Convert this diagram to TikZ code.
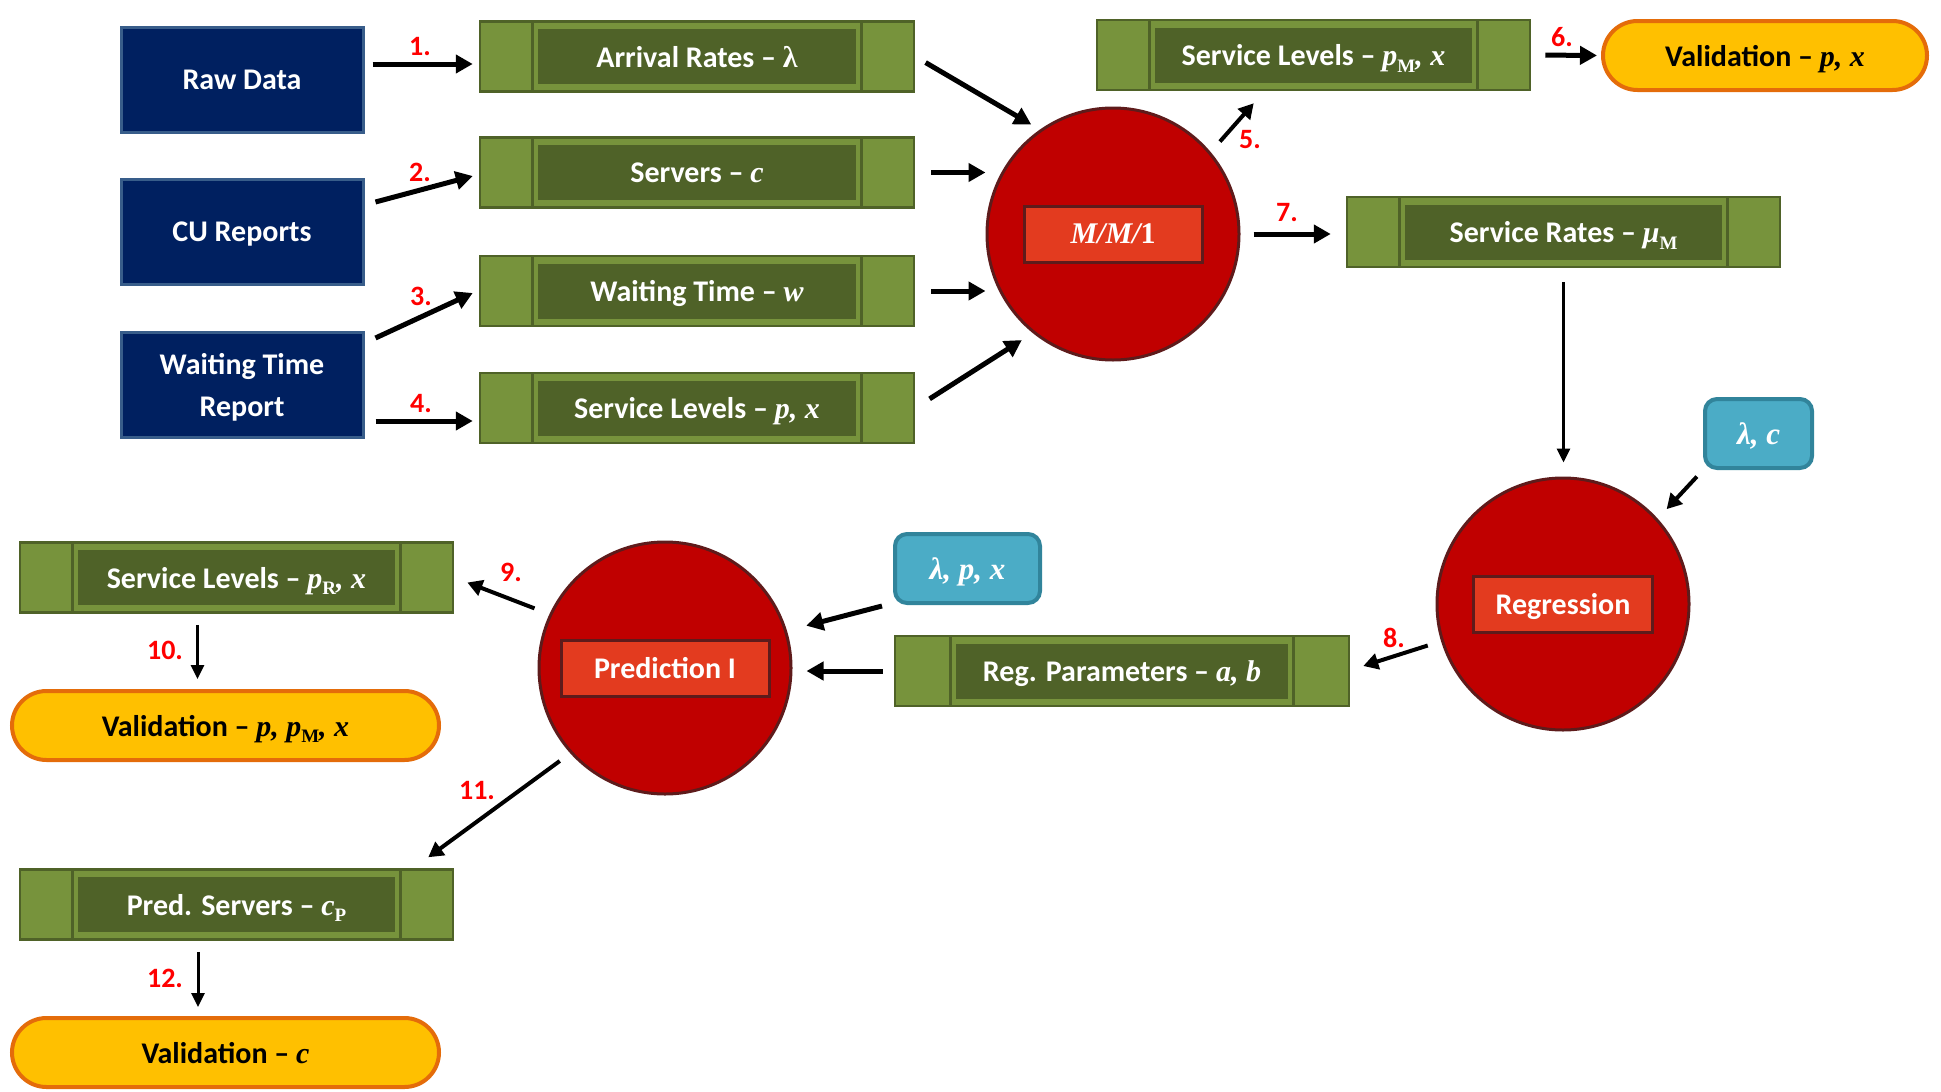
\documentclass[tikz,border=0pt]{standalone}
\usepackage{fontspec}
\setmainfont{Carlito}
\newfontfamily\serf{Liberation Serif}
\usetikzlibrary{calc,arrows.meta,shapes.misc}

\definecolor{navy}{HTML}{002060}
\definecolor{navyb}{HTML}{385D8A}
\definecolor{lgreen}{HTML}{77933C}
\definecolor{dgreen}{HTML}{4F6228}
\definecolor{cred}{HTML}{C00000}
\definecolor{cborder}{HTML}{5E1B1B}
\definecolor{clabel}{HTML}{E33B1F}
\definecolor{gold}{HTML}{FFC000}
\definecolor{goldb}{HTML}{E46C0A}
\definecolor{teal}{HTML}{4BACC6}
\definecolor{tealb}{HTML}{31849B}
\definecolor{numred}{HTML}{FF0000}

\newcommand\boxfnt{\fontsize{30}{42}\selectfont\bfseries}
\newcommand\numfnt{\fontsize{28}{32}\selectfont\bfseries}
\newcommand\mi[1]{{\serf\itshape #1}}
\newcommand\sbsc[1]{\raisebox{-0.22em}{\fontsize{19}{19}\selectfont\serf\upshape #1}}

\tikzset{
  srcbox/.style={rectangle, fill=navy, draw=navyb, line width=3pt,
    minimum width=242pt, minimum height=105pt, inner sep=0pt, text depth=0pt,
    text=white, align=center, font=\boxfnt},
  procbox/.style={rectangle, fill=lgreen, draw=dgreen, line width=2.5pt,
    minimum width=433pt, minimum height=70pt, inner sep=0pt, text depth=0pt,
    text=white, font=\boxfnt,
    path picture={
      \draw[dgreen, line width=3pt]
        let \p1=(path picture bounding box.south west),
            \p2=(path picture bounding box.north east),
            \n1={0.122*(\x2-\x1)} in
        (\x1+\n1,\y1) -- (\x1+\n1,\y2) (\x2-\n1,\y1) -- (\x2-\n1,\y2);
      \filldraw[fill=dgreen, draw=lgreen, line width=3pt]
        let \p1=(path picture bounding box.south west),
            \p2=(path picture bounding box.north east),
            \n1={0.122*(\x2-\x1)} in
        (\x1+\n1+4pt,\y1+6pt) rectangle (\x2-\n1-4pt,\y2-6pt);
    }},
  stage/.style={circle, fill=cred, draw=cborder, line width=3pt,
    minimum size=252pt, inner sep=0pt},
  stagelabel/.style={rectangle, fill=clabel, draw=cborder, line width=3pt,
    minimum height=56pt, inner sep=0pt, text depth=0pt, text=white, font=\boxfnt},
  valbox/.style={rounded rectangle, fill=gold, draw=goldb, line width=4pt,
    minimum width=427pt, minimum height=69pt, inner sep=0pt, text depth=0pt,
    text=black, font=\boxfnt},
  parbox/.style={rectangle, rounded corners=12pt, fill=teal, draw=tealb,
    line width=4pt, minimum height=69pt, inner sep=0pt, text depth=0pt,
    text=white, font=\fontsize{31}{40}\selectfont\serf\bfseries\itshape},
  num/.style={text=numred, font=\numfnt, inner sep=0pt},
  arr/.style={line width=5pt, -{Triangle[length=17pt,width=18pt]}},
  arrm/.style={line width=4pt, -{Triangle[length=15pt,width=16pt]}},
  arrt/.style={line width=3pt, -{Triangle[length=14pt,width=13pt]}},
}

\begin{document}
\begin{tikzpicture}[x=1pt, y=-1pt]
\useasboundingbox (0,0) rectangle (1941,1092);

% data sources
\node[srcbox] (raw) at (242,79.5) {Raw Data};
\node[srcbox] (cu)  at (242,232)  {CU Reports};
\node[srcbox] (wtr) at (242,384.5) {Waiting Time\\Report};

% measured inputs
\node[procbox, minimum width=434pt] (arr) at (697,56.5) {Arrival Rates – {\serf λ}};
\node[procbox, minimum width=434pt] (srv) at (697,172.5) {Servers – \mi{c}};
\node[procbox, minimum width=434pt] (wt)  at (697,291)  {Waiting Time – \mi{w}};
\node[procbox, minimum width=434pt] (sl)  at (697,408)  {Service Levels – \mi{p, x}};

% queueing model
\node[stage] (mm1) at (1113,234) {};
\node[stagelabel, minimum width=178pt] (mm1t) at (mm1) {\mi{M/M/}{\serf 1}};

\node[procbox] (slm) at (1313.5,55) {Service Levels – \mi{p}\sbsc{M}\mi{, x}};
\node[valbox, minimum width=324pt] (val1) at (1765,55.5) {Validation – \mi{p, x}};
\node[procbox] (sr) at (1563.5,232) {Service Rates – \mi{μ}\sbsc{M}};

% regression
\node[parbox, minimum width=107pt] (lc) at (1758.5,433.5) {λ, c};
\node[stage] (reg) at (1563,604) {};
\node[stagelabel, minimum width=179pt] (regt) at (reg) {Regression};
\node[procbox, minimum width=454pt] (rp) at (1122,671) {Reg. Parameters – \mi{a, b}};

% prediction
\node[parbox, minimum width=145pt] (lpx) at (967.5,568.5) {λ, p, x};
\node[stage] (pred) at (665,668) {};
\node[stagelabel, minimum width=208pt] (predt) at (pred) {Prediction I};

\node[procbox] (slr) at (236.5,577.5) {Service Levels – \mi{p}\sbsc{R}\mi{, x}};
\node[valbox] (val2) at (225.5,725.5) {Validation – \mi{p, p}\sbsc{M}\mi{, x}};
\node[procbox] (cp) at (236.5,904.5) {Pred. Servers – \mi{c}\sbsc{P}};
\node[valbox] (val3) at (225.5,1052.5) {Validation – \mi{c}};

% connectors
\draw[arr] ($(raw.east)+(8,-15.5)$) -- ($(arr.west)+(-6,7.5)$);
\draw[arr] ($(cu.east)+(11,-30)$) -- ($(srv.west)+(-6,3.5)$);
\draw[arr] ($(wtr.east)+(11,-46.5)$) -- ($(wt.west)+(-6,2)$);
\draw[arr] ($(wtr.east)+(11,36.5)$) -- ($(sl.west)+(-6,13)$);

\draw[arr, shorten <=12pt, shorten >=10pt] (arr.east) -- (mm1.125);
\draw[arr, shorten <=16pt] (srv.east) -- (srv.east -| mm1.west);
\draw[arr, shorten <=16pt] (wt.east) -- (wt.east -| mm1.west);
\draw[arr, shorten <=17pt, shorten >=13pt] (sl.east) -- (mm1.231);

\draw[arrm, shorten <=14pt] (mm1.40) -- ($(slm.south west)+(158,12)$);
\draw[arr, shorten <=14pt, shorten >=4pt] (slm.east) -- (val1.west);
\draw[arr, shorten <=13pt, shorten >=15pt] (mm1.east) -- (mm1.east -| sr.west);

\draw[arrt, shorten <=14pt, shorten >=14pt] (sr.south) -- (sr.south |- reg.north);
\draw[arrm, shorten <=9pt, shorten >=13pt] (lc.south west) -- (reg.42);
\draw[arrm, shorten <=14pt] (reg.197) -- ($(rp.east)+(13,-5)$);

\draw[arr, shorten >=20pt] ($(lpx.south west)+(-11,1)$) -- (pred.17);
\draw[arr, shorten <=11pt, shorten >=14pt] (rp.west) -- (rp.west -| pred.east);

\draw[arrm, shorten <=16pt, shorten >=14pt] (pred.155) -- (slr.east);
\coordinate (t10) at ($(slr.south)+(-39,0)$);
\draw[arrt, shorten <=11pt, shorten >=10pt] (t10) -- (t10 |- val2.north);
\draw[arrm, shorten <=13pt] (pred.222) -- ($(cp.north east)+(-26,-11)$);
\coordinate (t12) at ($(cp.south)+(-38.5,0)$);
\draw[arrt, shorten <=11pt, shorten >=9pt] (t12) -- (t12 |- val3.north);

% step numbers
\node[num] (n1)  at (420,47)  {1.};
\node[num] (n2)  at (420,172) {2.};
\node[num] (n3)  at (421,296) {3.};
\node[num] (n4)  at (421,404) {4.};
\node[num] (n5)  at (1250,140) {5.};
\node[num] (n6)  at (1562,37) {6.};
\node[num] (n7)  at (1287,213) {7.};
\node[num] (n8)  at (1394,638) {8.};
\node[num] (n9)  at (511,572) {9.};
\node[num] (n10) at (165,650) {10.};
\node[num] (n11) at (477,790) {11.};
\node[num] (n12) at (165,978) {12.};
\end{tikzpicture}
\end{document}
